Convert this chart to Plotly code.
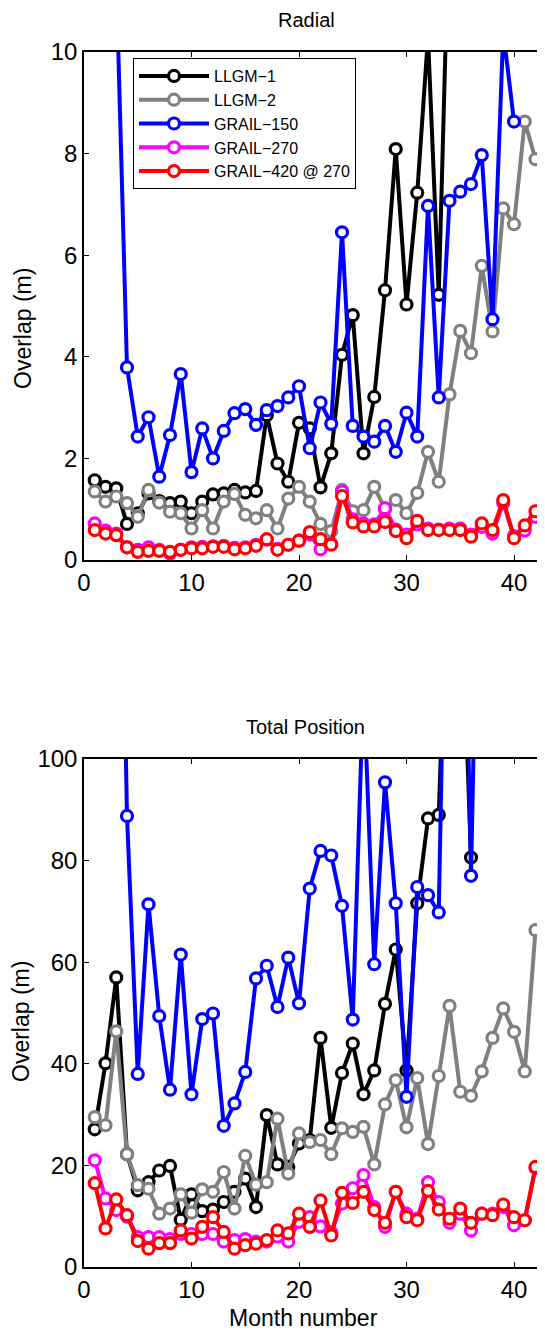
import plotly.graph_objects as go

months = list(range(1, 43))

# ---- Radial overlap (m) ----
llgm1_radial = [1.57, 1.44, 1.41, 0.71, 0.92, 1.31, 1.16, 1.12, 1.15, 0.92, 1.15, 1.29, 1.31, 1.38,
                1.33, 1.36, 2.85, 1.90, 1.54, 2.70, 2.59, 1.43, 2.10, 4.04, 4.82, 2.10, 3.21, 5.31,
                8.09, 5.03, 7.23, 10.3, 5.22, 13.0, 14.0, 12.0, None, None, None, None, None, None]
llgm2_radial = [1.35, 1.15, 1.25, 1.12, 0.85, 1.38, 1.13, 0.95, 0.92, 0.62, 0.98, 0.62, 1.15, 1.30,
                0.89, 0.82, 0.98, 0.62, 1.21, 1.44, 1.15, 0.71, 0.57, 1.38, 0.96, 0.98, 1.44, 1.00,
                1.18, 0.92, 1.32, 2.13, 1.54, 3.26, 4.51, 4.07, 5.79, 4.50, 6.92, 6.61, 8.63, 7.89]
grail150_radial = [14.0, 13.0, 11.5, 3.79, 2.43, 2.81, 1.64, 2.46, 3.66, 1.73, 2.59, 2.00, 2.54, 2.89,
                   2.97, 2.66, 2.95, 3.03, 3.20, 3.42, 2.20, 3.10, 2.68, 6.45, 2.64, 2.43, 2.33, 2.64,
                   2.13, 2.90, 2.43, 6.97, 3.20, 7.07, 7.25, 7.40, 7.97, 4.74, 10.4, 8.63, None, None]
grail270_radial = [0.72, 0.58, 0.52, 0.25, 0.20, 0.25, 0.20, 0.13, 0.20, 0.25, 0.26, 0.27, 0.28, 0.24,
                   0.25, 0.30, 0.40, 0.22, 0.30, 0.38, 0.50, 0.21, 0.32, 1.35, 0.80, 0.72, 0.70, 1.02,
                   0.60, 0.50, 0.70, 0.62, 0.60, 0.62, 0.62, 0.50, 0.65, 0.52, 1.12, 0.47, 0.58, 0.85]
grail420_radial = [0.59, 0.52, 0.49, 0.25, 0.16, 0.18, 0.18, 0.16, 0.20, 0.23, 0.23, 0.26, 0.26, 0.21,
                   0.23, 0.28, 0.41, 0.20, 0.30, 0.38, 0.55, 0.41, 0.30, 1.26, 0.74, 0.66, 0.66, 0.75,
                   0.57, 0.43, 0.77, 0.59, 0.59, 0.59, 0.59, 0.46, 0.72, 0.59, 1.18, 0.43, 0.68, 0.96]

# ---- Total position overlap (m) ----
llgm1_total = [27.1, 40.1, 57.0, 22.2, 15.1, 16.7, 19.0, 19.9, 9.3, 14.3, 11.0, 11.3, 12.8, 14.8,
               17.4, 11.8, 29.9, 20.2, 19.7, 24.3, 25.0, 45.1, 27.4, 38.2, 44.0, 34.0, 38.7, 51.8,
               62.5, 38.7, 71.6, 88.3, 89.0, 150.0, 140.0, 80.6, None, None, None, None, None, None]
llgm2_total = [29.5, 27.9, 46.4, 22.2, 16.1, 15.4, 10.5, 11.5, 14.3, 10.7, 15.3, 14.8, 18.7, 11.5,
               21.9, 16.2, 16.7, 29.2, 18.4, 26.3, 24.6, 25.0, 22.2, 27.3, 26.6, 27.6, 20.2, 32.0,
               36.8, 27.5, 37.2, 24.2, 37.6, 51.4, 34.5, 33.7, 38.5, 45.1, 50.9, 46.3, 38.5, 66.3]
grail150_total = [300.0, 250.0, 200.0, 88.8, 38.0, 71.4, 49.4, 34.9, 61.5, 34.0, 48.8, 49.9, 27.8, 32.2,
                  38.4, 56.8, 59.3, 51.2, 60.9, 51.9, 74.5, 81.9, 81.0, 71.1, 48.7, 115.0, 59.6, 95.4,
                  71.6, 33.5, 74.8, 73.2, 69.8, 180.0, 180.0, 77.0, 180.0, 150.0, 150.0, 150.0, None, None]
grail270_total = [21.0, 13.5, 11.2, 9.9, 5.9, 5.9, 5.9, 5.5, 6.5, 6.5, 6.5, 6.5, 5.0, 5.3,
                  5.5, 5.0, 5.0, 6.0, 5.0, 8.9, 9.8, 8.0, 6.8, 12.5, 15.5, 18.1, 11.8, 7.9,
                  14.8, 10.5, 9.5, 16.7, 12.8, 8.7, 10.5, 7.2, 10.5, 10.5, 11.8, 8.2, 9.2, 19.5]
grail420_total = [16.5, 7.6, 13.3, 10.2, 5.1, 3.6, 4.7, 4.7, 7.2, 5.6, 7.9, 9.8, 6.9, 3.6,
                  4.3, 4.6, 5.3, 7.2, 6.6, 10.5, 7.9, 13.1, 6.2, 14.6, 12.6, 14.8, 11.2, 8.7,
                  14.8, 9.8, 9.2, 15.0, 11.3, 9.5, 11.5, 8.7, 10.5, 10.2, 12.3, 9.8, 9.2, 19.7]

series_names = ["LLGM\u22121", "LLGM\u22122", "GRAIL\u2212150", "GRAIL\u2212270", "GRAIL\u2212420 @ 270"]
series_colors = ["#000000", "#808080", "#0000ff", "#ff00ff", "#ff0000"]
radial = [llgm1_radial, llgm2_radial, grail150_radial, grail270_radial, grail420_radial]
total = [llgm1_total, llgm2_total, grail150_total, grail270_total, grail420_total]

FONT = "Liberation Sans, Arial, Helvetica, sans-serif"
W, H = 545, 1332
OFF = 8  # page body margin offset of the figure div in the browser window

fig = go.Figure()
for i, (name, col) in enumerate(zip(series_names, series_colors)):
    style = dict(mode="lines+markers",
                 line=dict(color=col, width=4),
                 marker=dict(symbol="circle", size=11, color="white",
                             line=dict(color=col, width=3.2)),
                 connectgaps=False)
    fig.add_trace(go.Scatter(x=months, y=radial[i], name=name, legendgroup=name,
                             xaxis="x", yaxis="y", showlegend=True, **style))
    fig.add_trace(go.Scatter(x=months, y=total[i], name=name, legendgroup=name,
                             xaxis="x2", yaxis="y2", showlegend=False, **style))

# window pixel -> paper fraction
def px_x(p):
    return (p - OFF) / W

def px_y(p):
    return 1 - (p - OFF) / H

x_dom = [px_x(84), px_x(84 + 42.9 * 10.75)]
axis_common = dict(showline=True, linecolor="black", linewidth=1.5, mirror="allticks",
                   ticks="inside", ticklen=5, tickwidth=1, tickcolor="black",
                   showgrid=False, zeroline=False, automargin=False,
                   tickfont=dict(family=FONT, size=24, color="black"))

fig.update_layout(
    template="none",
    width=W, height=H,
    margin=dict(l=0, r=0, t=0, b=0, pad=0),
    paper_bgcolor="white", plot_bgcolor="white",
    font=dict(family=FONT, color="black"),
    xaxis=dict(domain=x_dom, range=[0, 42.9], tickvals=[0, 10, 20, 30, 40], anchor="y", **axis_common),
    yaxis=dict(domain=[px_y(560), px_y(52)], range=[0, 10], tickvals=[0, 2, 4, 6, 8, 10],
               anchor="x", **axis_common),
    xaxis2=dict(domain=x_dom, range=[0, 42.9], tickvals=[0, 10, 20, 30, 40], anchor="y2", **axis_common),
    yaxis2=dict(domain=[px_y(1267), px_y(759)], range=[0, 100], tickvals=[0, 20, 40, 60, 80, 100],
                anchor="x2", **axis_common),
    legend=dict(x=px_x(133), y=px_y(58), xanchor="left", yanchor="top",
                bgcolor="white", bordercolor="black", borderwidth=1,
                font=dict(family=FONT, size=16, color="black"),
                tracegroupgap=0, itemwidth=70),
    showlegend=True,
)

annos = [
    dict(text="Radial", x=px_x(306), y=px_y(20), size=20, angle=0),
    dict(text="Total Position", x=px_x(305), y=px_y(727), size=20, angle=0),
    dict(text="Month number", x=px_x(303), y=px_y(1318), size=23, angle=0),
    dict(text="Overlap (m)", x=px_x(23), y=px_y(329), size=23, angle=-90),
    dict(text="Overlap (m)", x=px_x(21), y=px_y(1022), size=23, angle=-90),
]
for a in annos:
    fig.add_annotation(text=a["text"], x=a["x"], y=a["y"], xref="paper", yref="paper",
                       xanchor="center", yanchor="middle", showarrow=False, textangle=a["angle"],
                       font=dict(family=FONT, size=a["size"], color="black"))

fig.write_html("out.html")
